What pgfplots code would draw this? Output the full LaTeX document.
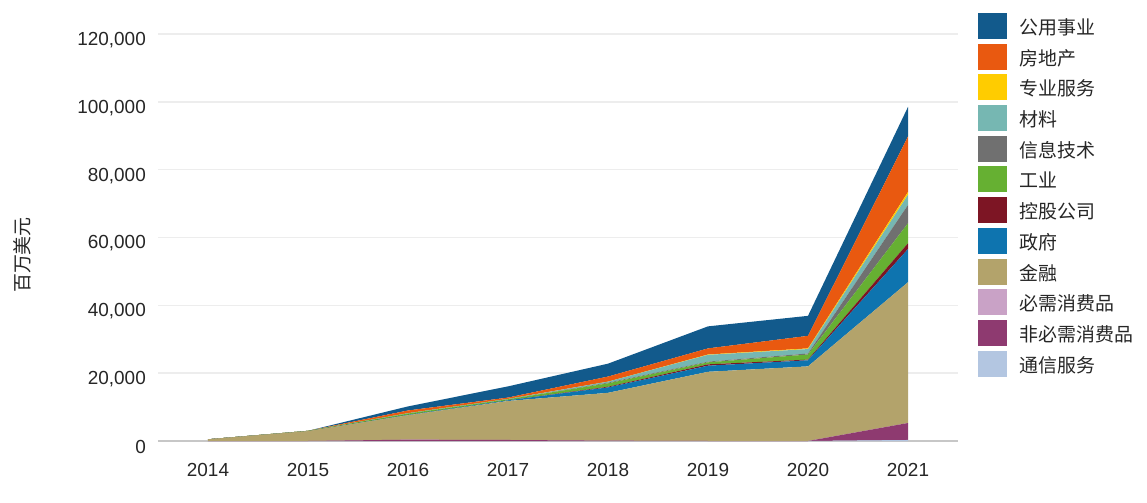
\documentclass[border=0pt]{standalone}
\usepackage{fontspec}
\setmainfont{Liberation Sans}
\newfontfamily\cjk{Noto Sans CJK SC}
\usepackage{pgfplots}
\pgfplotsset{compat=1.18}
\definecolor{cUtil}{RGB}{18,90,140}
\definecolor{cReal}{RGB}{233,89,16}
\definecolor{cProf}{RGB}{255,204,0}
\definecolor{cMat}{RGB}{118,183,178}
\definecolor{cIT}{RGB}{112,112,112}
\definecolor{cInd}{RGB}{102,176,50}
\definecolor{cHold}{RGB}{125,21,36}
\definecolor{cGov}{RGB}{14,116,175}
\definecolor{cFin}{RGB}{179,163,107}
\definecolor{cStap}{RGB}{201,162,198}
\definecolor{cDisc}{RGB}{142,58,112}
\definecolor{cComm}{RGB}{179,198,225}
\begin{document}
\fontsize{19}{22}\selectfont
\begin{tikzpicture}
\path[use as bounding box] (-158bp,-62bp) rectangle (989bp,441bp);
\begin{axis}[
  at={(0,0)}, anchor=south west,
  scale only axis, width=800bp, height=407bp,
  xmin=2013.5, xmax=2021.5, ymin=0, ymax=120000,
  xtick={2014,2015,2016,2017,2018,2019,2020,2021},
  ytick={0,20000,40000,60000,80000,100000,120000},
  scaled y ticks=false,
  x tick label style={/pgf/number format/1000 sep={}, inner sep=0pt, yshift=-22bp, text=black!85},
  y tick label style={/pgf/number format/.cd, fixed, 1000 sep={,}, /tikz/.cd, inner sep=0pt, xshift=-12bp, yshift=-6bp, text=black!85},
  /pgf/number format/assume math mode=true,
  ymajorgrids, grid style={draw=black!7, line width=1.5bp},
  major tick length=0pt,
  axis x line*=bottom, axis y line*=left,
  y axis line style={draw=none},
  x axis line style={-, draw=black!22, line width=1.5bp},
  stack plots=y,
  ylabel={\cjk 百万美元},
  ylabel style={at={(axis description cs:-0.17,0.457)}, anchor=center, text=black!85},
  legend image code/.code={\path[#1, draw=none] (0bp,-11bp) rectangle (29bp,15bp);},
  reverse legend,
  legend cell align=left,
  legend style={at={(axis description cs:1.025,1.0516)}, anchor=north west, draw=none, fill=none,
    inner sep=0pt, outer sep=0pt, row sep=4.7bp, column sep=13bp,
    nodes={inner sep=0pt, text=black!85}, font=\cjk\fontsize{19}{22}\selectfont},
]
% bottom to top
\addplot[fill=cComm, draw=none] coordinates {(2014,0) (2015,0) (2016,0) (2017,0) (2018,0) (2019,0) (2020,0) (2021,300)} \closedcycle;
\addlegendentry{通信服务}
\addplot[fill=cDisc, draw=none] coordinates {(2014,0) (2015,0) (2016,400) (2017,300) (2018,100) (2019,0) (2020,0) (2021,5000)} \closedcycle;
\addlegendentry{非必需消费品}
\addplot[fill=cStap, draw=none] coordinates {(2014,0) (2015,0) (2016,0) (2017,0) (2018,0) (2019,0) (2020,0) (2021,0)} \closedcycle;
\addlegendentry{必需消费品}
\addplot[fill=cFin, draw=none] coordinates {(2014,500) (2015,2900) (2016,7200) (2017,11500) (2018,14100) (2019,20400) (2020,22000) (2021,41500)} \closedcycle;
\addlegendentry{金融}
\addplot[fill=cGov, draw=none] coordinates {(2014,0) (2015,0) (2016,100) (2017,200) (2018,1600) (2019,1800) (2020,1800) (2021,9800)} \closedcycle;
\addlegendentry{政府}
\addplot[fill=cHold, draw=none] coordinates {(2014,0) (2015,0) (2016,0) (2017,0) (2018,200) (2019,400) (2020,200) (2021,1700)} \closedcycle;
\addlegendentry{控股公司}
\addplot[fill=cInd, draw=none] coordinates {(2014,0) (2015,100) (2016,400) (2017,300) (2018,1000) (2019,600) (2020,1500) (2021,5900)} \closedcycle;
\addlegendentry{工业}
\addplot[fill=cIT, draw=none] coordinates {(2014,0) (2015,0) (2016,0) (2017,0) (2018,200) (2019,200) (2020,300) (2021,5400)} \closedcycle;
\addlegendentry{信息技术}
\addplot[fill=cMat, draw=none] coordinates {(2014,0) (2015,0) (2016,100) (2017,100) (2018,300) (2019,2000) (2020,1300) (2021,3000)} \closedcycle;
\addlegendentry{材料}
\addplot[fill=cProf, draw=none] coordinates {(2014,0) (2015,0) (2016,0) (2017,0) (2018,0) (2019,100) (2020,200) (2021,800)} \closedcycle;
\addlegendentry{专业服务}
\addplot[fill=cReal, draw=none] coordinates {(2014,0) (2015,0) (2016,800) (2017,400) (2018,1500) (2019,1800) (2020,3700) (2021,16400)} \closedcycle;
\addlegendentry{房地产}
\addplot[fill=cUtil, draw=none] coordinates {(2014,0) (2015,0) (2016,1200) (2017,3300) (2018,3800) (2019,6500) (2020,5900) (2021,8700)} \closedcycle;
\addlegendentry{公用事业}
\end{axis}
\end{tikzpicture}
\end{document}
